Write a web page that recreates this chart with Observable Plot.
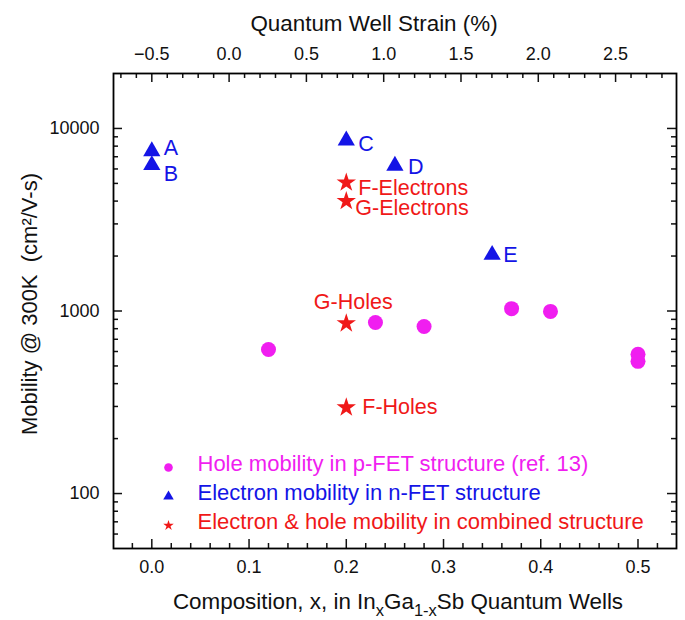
<!DOCTYPE html>
<html><head><meta charset="utf-8">
<script src="https://cdn.jsdelivr.net/npm/d3@7"></script>
<script src="https://cdn.jsdelivr.net/npm/@observablehq/plot@0.6"></script>
<style>body{margin:0;background:#fff}</style>
</head><body><div id="chart"></div>
<script>
// ---- data ----
const holeX = [0.12, 0.23, 0.28, 0.37, 0.41, 0.50, 0.50];
const holeMobility = [615, 865, 822, 1030, 995, 580, 530];
const electronLabels = ["A", "B", "C", "D", "E"];
const electronX = [0, 0, 0.20, 0.25, 0.35];
const electronMobility = [7500, 6300, 8600, 6250, 2030];
const combinedLabels = ["F-Electrons", "G-Electrons", "G-Holes", "F-Holes"];
const combinedX = [0.20, 0.20, 0.20, 0.20];
const combinedMobility = [5050, 4000, 855, 296];
const legendLabels = [
  "Hole mobility in p-FET structure (ref. 13)",
  "Electron mobility in n-FET structure",
  "Electron & hole mobility in combined structure"
];
const xTicks = [0, 0.1, 0.2, 0.3, 0.4, 0.5];
const xMinorTicks = [-0.02, 0.02, 0.04, 0.06, 0.08, 0.12, 0.14, 0.16, 0.18, 0.22, 0.24, 0.26, 0.28, 0.32, 0.34, 0.36, 0.38, 0.42, 0.44, 0.46, 0.48, 0.52];
const yTicks = [100, 1000, 10000];
const yMinorTicks = [60, 70, 80, 90, 200, 300, 400, 500, 600, 700, 800, 900, 2000, 3000, 4000, 5000, 6000, 7000, 8000, 9000];
const strainTicks = [-0.5, 0.0, 0.5, 1.0, 1.5, 2.0, 2.5];
const strainMinorTicks = [-0.7, -0.6, -0.4, -0.3, -0.2, -0.1, 0.1, 0.2, 0.3, 0.4, 0.6, 0.7, 0.8, 0.9, 1.1, 1.2, 1.3, 1.4, 1.6, 1.7, 1.8, 1.9, 2.1, 2.2, 2.3, 2.4, 2.6, 2.7, 2.8];
const topTitle = "Quantum Well Strain (%)";
const yTitle = "Mobility @ 300K  (cm\u00B2/V-s)";
const xTitleParts = [["Composition, x, in In", false], ["x", true], ["Ga", false], ["1-x", true], ["Sb Quantum Wells", false]];

// ---- layout / style ----
const W = 685, H = 620, ML = 113, MR = 9, MT = 73, MB = 72;
const FW = W - ML - MR, FH = H - MT - MB;
const FONT = "'Liberation Sans', Arial, sans-serif";
const MAG = "#f01ef0", BLUE = "#1414e6", RED = "#f01818";
const strainToX = s => (s + 0.5) / 6.29;
const fmt1 = d3.format(".1f");

const holes = holeX.map((x, i) => ({x, y: holeMobility[i]}));
const electrons = electronX.map((x, i) => ({x, y: electronMobility[i], label: electronLabels[i]}));
const combined = combinedX.map((x, i) => ({x, y: combinedMobility[i], label: combinedLabels[i]}));

const eOff = [[12, -3], [12, 9], [12, 4], [13, 1], [11, 0]];
const cOff = [[12, 5, "start"], [9, 7, "start"], [7, -21, "middle"], [16, 0, "start"]];

const tickMarks = (len, mlen, w) => [
  Plot.tickX(xTicks, {x: d => d, insetTop: FH - len, strokeWidth: w}),
  Plot.tickX(xMinorTicks, {x: d => d, insetTop: FH - mlen, strokeWidth: w}),
  Plot.tickX(strainTicks, {x: strainToX, insetBottom: FH - len, strokeWidth: w}),
  Plot.tickX(strainMinorTicks, {x: strainToX, insetBottom: FH - mlen, strokeWidth: w}),
  Plot.tickY(yTicks, {y: d => d, insetRight: FW - len, strokeWidth: w}),
  Plot.tickY(yMinorTicks, {y: d => d, insetRight: FW - mlen, strokeWidth: w}),
  Plot.tickY(yTicks, {y: d => d, insetLeft: FW - len, strokeWidth: w}),
  Plot.tickY(yMinorTicks, {y: d => d, insetLeft: FW - mlen, strokeWidth: w})
];

const legendSym = [["circle", 4.3, MAG], ["triangle", 3.9, BLUE], ["star", 3.3, RED]];
const legendMarks = legendLabels.flatMap((lab, i) => [
  Plot.dot([lab], {frameAnchor: "bottom-left", dx: 55, dy: -81 + 29 * i, symbol: legendSym[i][0], r: legendSym[i][1], fill: legendSym[i][2], stroke: "none"}),
  Plot.text([lab], {frameAnchor: "bottom-left", dx: 84, dy: -78 + 29 * i, text: d => d, textAnchor: "start", fill: legendSym[i][2], fontSize: 22})
]);

const plot = Plot.plot({
  width: W, height: H,
  marginLeft: ML, marginRight: MR, marginTop: MT, marginBottom: MB,
  style: {fontFamily: FONT, fontSize: "18px", color: "#111", background: "#fff", overflow: "visible"},
  x: {type: "linear", domain: [-0.0394, 0.5396], axis: null},
  y: {type: "log", domain: [50, 20000], axis: null},
  marks: [
    ...tickMarks(9, 5, 1.5),
    Plot.frame({stroke: "#000", strokeWidth: 1.8}),
    // tick labels
    Plot.text(xTicks, {x: d => d, frameAnchor: "bottom", dy: 24, text: fmt1, fontSize: 18, fill: "#111"}),
    Plot.text(strainTicks, {x: strainToX, frameAnchor: "top", dy: -26, text: fmt1, fontSize: 18, fill: "#111"}),
    Plot.text(yTicks, {y: d => d, frameAnchor: "left", dx: -14, text: d => String(d), textAnchor: "end", fontSize: 18, fill: "#111"}),
    // axis titles
    Plot.text([topTitle], {frameAnchor: "top", dy: -58, dx: -21, text: d => d, textAnchor: "middle", fontSize: 22.4, fill: "#111"}),
    Plot.text([yTitle], {frameAnchor: "left", dx: -84, dy: -7, text: d => d, rotate: -90, textAnchor: "middle", fontSize: 22, fill: "#111"}),
    Plot.text([xTitleParts.map(p => p[0]).join("")], {frameAnchor: "bottom", dy: 60, dx: 3, text: d => d, textAnchor: "middle", fontSize: 22.4, fill: "#111", className: "xtitle"}),
    // data
    Plot.dot(holes, {x: "x", y: "y", r: 7.5, fill: MAG, symbol: "circle", stroke: "none"}),
    Plot.dot(electrons, {x: "x", y: "y", r: 6.4, fill: BLUE, symbol: "triangle", stroke: "none"}),
    Plot.dot(combined, {x: "x", y: "y", r: 6.1, fill: RED, symbol: "star", stroke: "none"}),
    ...electrons.map((d, i) => Plot.text([d], {x: "x", y: "y", text: "label", dx: eOff[i][0], dy: eOff[i][1], textAnchor: "start", fill: BLUE, fontSize: 21.5})),
    ...combined.map((d, i) => Plot.text([d], {x: "x", y: "y", text: "label", dx: cOff[i][0], dy: cOff[i][1], textAnchor: cOff[i][2], fill: RED, fontSize: 21.5})),
    ...legendMarks
  ]
});
document.getElementById("chart").appendChild(plot);

// subscripts in the bottom title
d3.select(plot).selectAll("g.xtitle text").each(function () {
  const t = d3.select(this);
  t.text(null);
  let shifted = false;
  for (const [s, sub] of xTitleParts) {
    const ts = t.append("tspan").text(s);
    if (sub && !shifted) { ts.attr("dy", "7").attr("font-size", "16.5"); shifted = true; }
    else if (!sub && shifted) { ts.attr("dy", "-7"); shifted = false; }
  }
});
</script>
</body></html>
